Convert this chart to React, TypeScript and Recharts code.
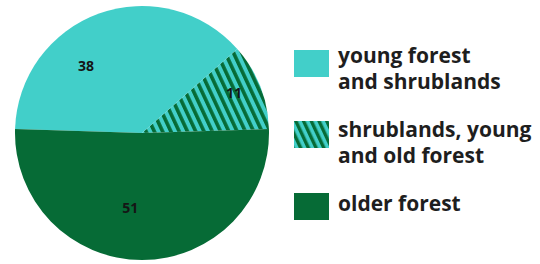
import React from 'react';
import { PieChart, Pie, Cell, Legend } from 'recharts';

const categories = ['young forest and shrublands', 'shrublands, young and old forest', 'older forest'];
const values = [38, 11, 51];
// legend lines (the original breaks the names by hand)
const legendLines = [
  ['young forest', 'and shrublands'],
  ['shrublands, young', 'and old forest'],
  ['older forest'],
];

// pie is drawn counter-clockwise from 3 o'clock: hatched first, then light, then dark
const order = [1, 0, 2];
const pieData = order.map((i) => ({ name: categories[i], value: values[i], idx: i }));

const LIGHT = '#42CFC9';
const DARK = '#066B36';
const fills = [LIGHT, 'url(#hatch)', DARK];

// label nudges, per category: [angle shift in degrees, fraction of radius]
const labelPlace = [
  [20, 0.69],
  [2, 0.79],
  [-9, 0.59],
];

// legend layout: top of each text block and of each swatch
const legendTextTop = [42, 116, 190];
const legendSwatchTop = [50, 121, 193];

const RAD = Math.PI / 180;

const renderLabel = (props: any) => {
  const { cx, cy, midAngle, outerRadius, payload } = props;
  const idx = payload?.idx ?? props.idx;
  const [shift, frac] = labelPlace[idx];
  const a = (midAngle + shift) * RAD;
  const r = outerRadius * frac;
  return (
    <text
      x={cx + r * Math.cos(a)}
      y={cy - r * Math.sin(a)}
      textAnchor="middle"
      dominantBaseline="central"
      fill="#151515"
      fontSize={14}
      fontWeight={700}
      fontFamily="'Open Sans', sans-serif"
    >
      {values[idx]}
    </text>
  );
};

const LegendBox = () => (
  <div
    style={{
      position: 'relative',
      width: 1,
      height: 1,
      overflow: 'visible',
      fontFamily: "'Open Sans', sans-serif",
      fontWeight: 700,
      fontSize: 21,
      color: '#1e1e1e',
    }}
  >
    {categories.map((c, i) => (
      <React.Fragment key={c}>
        <svg width={35} height={27} style={{ position: 'absolute', left: 294, top: legendSwatchTop[i] }}>
          <rect width={35} height={27} fill={i === 1 ? 'url(#hatchSmall)' : fills[i]} />
        </svg>
        <div style={{ position: 'absolute', left: 338, top: legendTextTop[i], lineHeight: '26px', whiteSpace: 'nowrap' }}>
          {legendLines[i].map((l) => (
            <div key={l}>{l}</div>
          ))}
        </div>
      </React.Fragment>
    ))}
  </div>
);

export default function App() {
  return (
    <div style={{ position: 'fixed', left: 0, top: 0, width: 540, height: 264, background: '#fff' }}>
      <svg width={0} height={0} style={{ position: 'absolute' }}>
        <defs>
          <pattern id="hatch" patternUnits="userSpaceOnUse" width={7.5} height={7.5} patternTransform="rotate(-25)">
            <rect width={7.5} height={7.5} fill={LIGHT} />
            <rect width={3.6} height={7.5} fill={DARK} />
          </pattern>
          <pattern id="hatchSmall" patternUnits="userSpaceOnUse" width={7} height={7} patternTransform="rotate(-25)">
            <rect width={7} height={7} fill={LIGHT} />
            <rect width={3.4} height={7} fill={DARK} />
          </pattern>
        </defs>
      </svg>
      <PieChart width={540} height={264} margin={{ top: 0, right: 0, bottom: 0, left: 0 }}>
        <Pie
          data={pieData}
          dataKey="value"
          cx={142}
          cy={133}
          outerRadius={127}
          startAngle={1.8}
          endAngle={361.8}
          stroke="none"
          labelLine={false}
          label={renderLabel}
          isAnimationActive={false}
        >
          {pieData.map((d) => (
            <Cell key={d.name} fill={fills[d.idx]} />
          ))}
        </Pie>
        <Legend
          layout="vertical"
          verticalAlign="middle"
          align="right"
          content={<LegendBox />}
          wrapperStyle={{ left: 0, top: 0, width: 1, height: 1, overflow: 'visible', pointerEvents: 'none' }}
        />
      </PieChart>
    </div>
  );
}
